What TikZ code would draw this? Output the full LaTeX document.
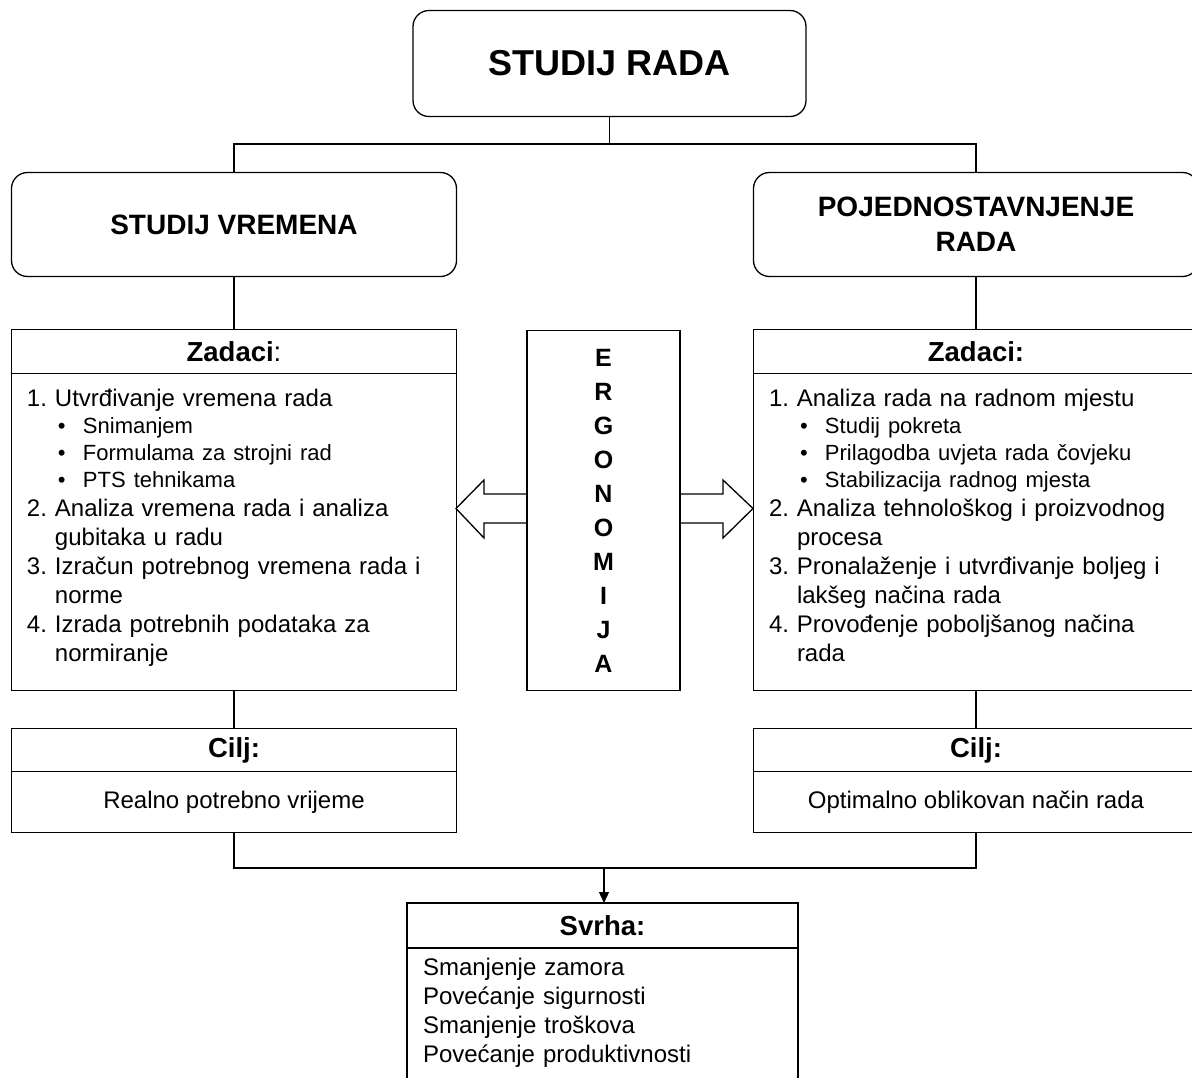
\documentclass[tikz,border=0pt]{standalone}
\usepackage{fontspec}
\setmainfont{Liberation Sans}
\usetikzlibrary{arrows.meta,positioning}

% numbered line with hanging indent, and a bullet line under it
\newcommand\numitem[2]{\par\hangindent=28pt\hangafter=1
  \noindent\strut\makebox[28pt][l]{#1}#2\par}
\newcommand\bulitem[1]{{\fontsize{22}{27}\selectfont\hangindent=56pt\hangafter=1
  \noindent\hspace*{31pt}\makebox[25pt][l]{•}#1\par}}

\tikzset{
  every node/.style={text=black, inner sep=0pt, outer sep=0pt},
  headbox/.style={rectangle, rounded corners=16pt, draw, line width=1.3pt,
    align=center, minimum width=445pt, minimum height=104pt,
    font=\fontsize{28}{35}\selectfont\bfseries},
  capbox/.style={rectangle, draw, line width=1.3pt, minimum width=445pt,
    minimum height=43.5pt, font=\fontsize{27.5}{33}\selectfont\bfseries},
  panel/.style={rectangle, draw, line width=1.3pt, minimum width=445pt,
    align=center, font=\fontsize{24}{29}\selectfont},
  listtext/.style={anchor=north west, text width=410pt, align=left,
    font=\fontsize{24}{29}\selectfont},
  link/.style={line width=1.3pt},
  fatarrow/.style={line width=1.3pt, line join=miter},
}

\begin{document}
\begin{tikzpicture}[x=1pt,y=-1pt]
\useasboundingbox (0,0) rectangle (1192,1077);
\clip (0,0) rectangle (1192,1077);

\def\xl{234}   % left column
\def\xr{976}   % right column

% ---- Top -----------------------------------------------------------------
\node[headbox, minimum width=393pt, minimum height=106pt,
  font=\fontsize{36}{43}\selectfont\bfseries] (rad) at (609.5,63.5) {STUDIJ RADA};

\node[headbox] (vrem) at (\xl,224.5) {STUDIJ VREMENA};
\node[headbox] (pojed) at (\xr,224.5) {POJEDNOSTAVNJENJE\\RADA};

\coordinate (tbus) at (rad.south |- 0,144);
\draw[link] (rad.south) -- (tbus);
\draw[link] (vrem.north) |- (tbus) -| (pojed.north);

% ---- Zadaci --------------------------------------------------------------
\node[capbox] (lzad) at (\xl,351.5) {Zadaci\mdseries:};
\node[panel, minimum height=317.5pt, below=0pt of lzad] (lzadb) {};
\node[capbox] (rzad) at (\xr,351.5) {Zadaci:};
\node[panel, minimum height=317.5pt, below=0pt of rzad] (rzadb) {};

\node[listtext] (lzadl) at (27,377.7) {%
  \numitem{1.}{Utvrđivanje vremena rada}
  \bulitem{Snimanjem}
  \bulitem{Formulama za strojni rad}
  \bulitem{PTS tehnikama}
  \numitem{2.}{Analiza vremena rada i analiza\newline gubitaka u radu}
  \numitem{3.}{Izračun potrebnog vremena rada i\newline norme}
  \numitem{4.}{Izrada potrebnih podataka za\newline normiranje}};

\node[listtext] (rzadl) at (769,377.7) {%
  \numitem{1.}{Analiza rada na radnom mjestu}
  \bulitem{Studij pokreta}
  \bulitem{Prilagodba uvjeta rada čovjeku}
  \bulitem{Stabilizacija radnog mjesta}
  \numitem{2.}{Analiza tehnološkog i proizvodnog\newline procesa}
  \numitem{3.}{Pronalaženje i utvrđivanje boljeg i\newline lakšeg načina rada}
  \numitem{4.}{Provođenje poboljšanog načina\newline rada}};

\draw[link] (vrem.south) -- (lzad.north);
\draw[link] (pojed.south) -- (rzad.north);

% ---- Ergonomija ----------------------------------------------------------
\node[panel, minimum width=153pt, minimum height=360pt,
  font=\fontsize{25}{34}\selectfont\bfseries] (ergo) at (603.5,510.5)
  {E\\R\\G\\O\\N\\O\\M\\I\\J\\A};

\draw[fatarrow] (ergo.west) ++(0,-16.5) -- ++(-43,0) -- ++(0,-14)
  -- ++(-28,28.5) -- ++(28,29.5) -- ++(0,-15) -- ++(43,0);
\draw[fatarrow] (ergo.east) ++(0,-16.5) -- ++(43,0) -- ++(0,-14)
  -- ++(30,28.5) -- ++(-30,29.5) -- ++(0,-15) -- ++(-43,0);

% ---- Cilj ----------------------------------------------------------------
\node[capbox] (lcil) at (\xl,750) {Cilj:};
\node[panel, minimum height=61pt, below=0pt of lcil] (lcilb) {Realno potrebno vrijeme};
\node[capbox] (rcil) at (\xr,750) {Cilj:};
\node[panel, minimum height=61pt, below=0pt of rcil] (rcilb) {Optimalno oblikovan način rada};

\draw[link] (lzadb.south) -- (lcil.north);
\draw[link] (rzadb.south) -- (rcil.north);

% ---- Svrha ---------------------------------------------------------------
\node[capbox, minimum width=391pt, minimum height=45pt] (svrha) at (602.5,925.5) {Svrha:};
\node[panel, minimum width=391pt, minimum height=140pt, below=0pt of svrha] (svrhab) {};
\node[listtext] (svrhal) at (423,954.7) {%
  \strut Smanjenje zamora\\Povećanje sigurnosti\\Smanjenje troškova\\Povećanje produktivnosti};

\coordinate (bbus) at (604,868);
\draw[link] (lcilb.south) |- (bbus) -| (rcilb.south);
\draw[link, -{Triangle[length=11pt,width=10pt]}] (bbus) -- (bbus |- svrha.north);

\end{tikzpicture}
\end{document}
